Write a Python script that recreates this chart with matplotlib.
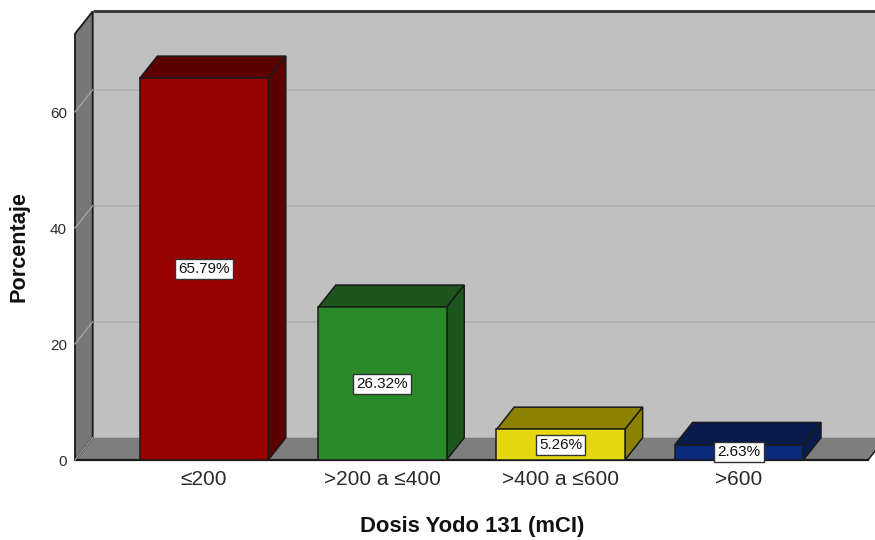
import matplotlib
matplotlib.use("Agg")
import matplotlib.pyplot as plt
from matplotlib.patches import Polygon

plt.rcParams['font.family'] = ['Liberation Sans', 'DejaVu Sans']

# Data
categories = ['≤200', '>200 a ≤400', '>400 a ≤600', '>600']
percentages = [65.79, 26.32, 5.26, 2.63]
y_ticks = [0, 20, 40, 60]
x_title = 'Dosis Yodo 131 (mCI)'
y_title = 'Porcentaje'

# Colours (front face, top/side face)
front_colors = ['#990000', '#2a8a2a', '#e5d80f', '#0b2a7c']
shade_colors = ['#5c0000', '#1c561c', '#8c8200', '#081b4c']

WALL = '#c0c0c0'
FLOOR = '#7e7e7e'
SIDE_WALL = '#777777'
EDGE = '#1a1a1a'

# 3D box geometry in data units
DX, DY = 0.0992, 3.845          # depth offset
HW = 0.36                       # half bar width
X0, X1 = -0.7226, 3.7226        # floor extent
WALL_TOP = 73.5

fig = plt.figure(figsize=(8.75, 5.4), dpi=100)
ax = fig.add_axes([75 / 875, 1 - 460 / 540, 800 / 875, 460 / 540])
ax.set_xlim(X0, 3.7618)
ax.set_ylim(0, 460 / 5.8)
ax.patch.set_visible(False)
for s in ax.spines.values():
    s.set_visible(False)


def poly(pts, fc, ec=EDGE, lw=1.1, z=1):
    ax.add_patch(Polygon(pts, closed=True, facecolor=fc, edgecolor=ec,
                         linewidth=lw, zorder=z, clip_on=False,
                         joinstyle='miter'))


# Back wall
poly([(X0 + DX, DY), (X1 + DX + 0.3, DY), (X1 + DX + 0.3, WALL_TOP + DY),
      (X0 + DX, WALL_TOP + DY)], WALL, ec='none', z=1)
ax.plot([X0 + DX, X1 + DX + 0.3], [WALL_TOP + DY] * 2, color='#333333',
        lw=2.0, zorder=2, clip_on=False, solid_capstyle='butt')
for t in y_ticks[1:]:
    ax.plot([X0 + DX, X1 + DX + 0.3], [t + DY] * 2, color='#b2b2b2', lw=1.4,
            zorder=2, clip_on=False)

# Floor
poly([(X0, 0), (X1, 0), (X1 + DX, DY), (X0 + DX, DY)], FLOOR, ec='none', z=3)
ax.plot([X0, X1], [0, 0], color=EDGE, lw=1.6, zorder=4, clip_on=False)
ax.plot([X1, X1 + DX], [0, DY], color=EDGE, lw=1.1, zorder=4, clip_on=False)

# Left wall
poly([(X0, 0), (X0 + DX, DY), (X0 + DX, WALL_TOP + DY), (X0, WALL_TOP)],
     SIDE_WALL, ec=EDGE, lw=1.3, z=3)
for t in y_ticks:
    ax.plot([X0, X0 + DX], [t, t + DY], color='#a8a8a8', lw=0.9, zorder=4,
            clip_on=False)

# Bars
xs = list(range(len(categories)))
ax.bar(xs, percentages, width=2 * HW, color=front_colors, edgecolor=EDGE,
       linewidth=1.1, zorder=7)
for x, v, sc in zip(xs, percentages, shade_colors):
    l, r = x - HW, x + HW
    poly([(l, v), (r, v), (r + DX, v + DY), (l + DX, v + DY)], sc, z=6)
    poly([(r, 0), (r + DX, DY), (r + DX, v + DY), (r, v)], sc, z=6)
    ax.text(x, v / 2, f'{v:.2f}%', ha='center', va='center', fontsize=11,
            color='#111111', zorder=9,
            bbox=dict(boxstyle='square,pad=0.2', facecolor='white',
                      edgecolor='#333333', linewidth=1.0))

# Axes text
ax.set_xticks(xs, categories)
ax.set_yticks(y_ticks)
ax.tick_params(axis='x', length=0, pad=7.2, labelsize=15, labelcolor='#2b2b2b')
ax.tick_params(axis='y', length=0, pad=5.8, labelsize=11, labelcolor='#2b2b2b')
ax.set_xlabel(x_title, fontsize=15.8, fontweight='bold', color='#111111')
ax.set_ylabel(y_title, fontsize=15.6, fontweight='bold', color='#111111')
ax.xaxis.set_label_coords(0.4969, -0.1228)
ax.yaxis.set_label_coords(-0.05625, 0.463)

fig.savefig('out.png', dpi=100, facecolor='white')
